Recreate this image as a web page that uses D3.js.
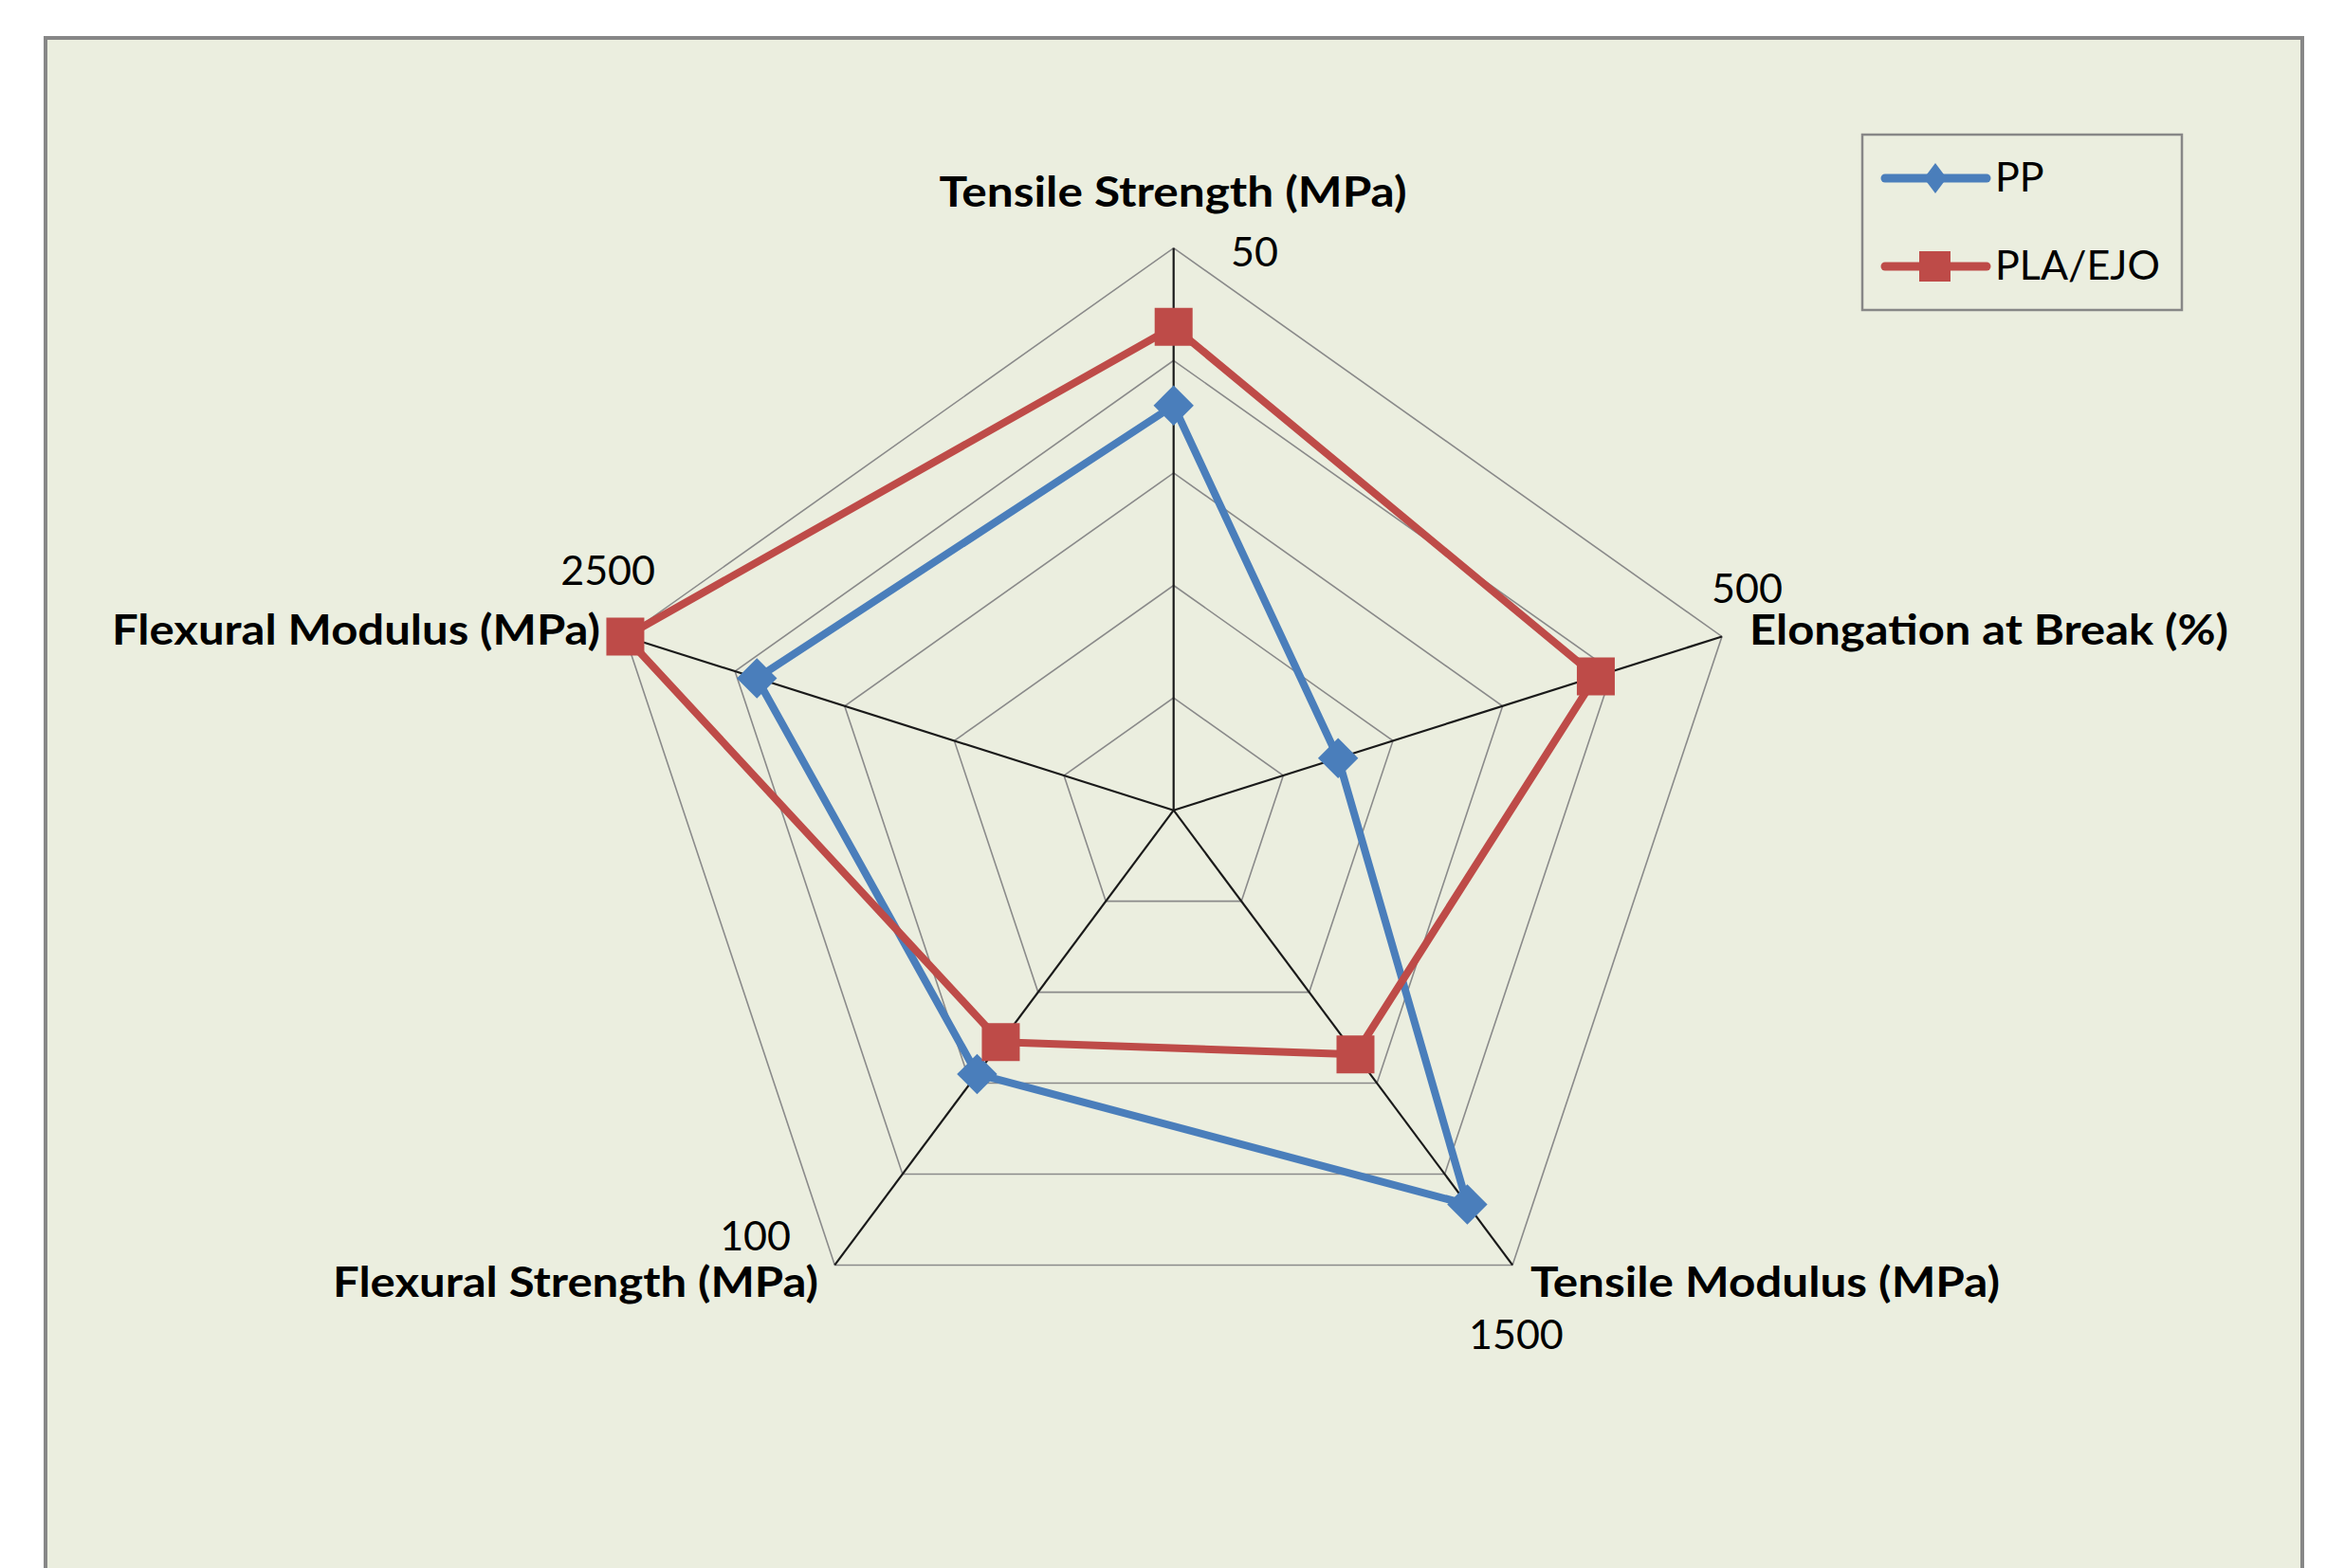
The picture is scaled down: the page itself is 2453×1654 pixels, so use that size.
<!DOCTYPE html>
<html>
<head>
<meta charset="utf-8">
<script src="https://cdn.jsdelivr.net/npm/d3@7"></script>
<style>
  html, body { margin: 0; padding: 0; background: #ffffff; }
  svg { display: block; }
</style>
</head>
<body>
<svg id="chart" width="2453" height="1654"></svg>
<script>
// ---- data ----
const axes = ["Tensile Strength (MPa)", "Elongation at Break (%)", "Tensile Modulus (MPa)", "Flexural Strength (MPa)", "Flexural Modulus (MPa)"];
const axisMax = [50, 500, 1500, 100, 2500];
const axisMaxLabels = ["50", "500", "1500", "100", "2500"];
const seriesNames = ["PP", "PLA/EJO"];
const ppValues = [36, 150, 1300, 58, 1900];
const plaValues = [43, 385, 805, 51, 2500];
const gridLevels = [0.2, 0.4, 0.6, 0.8, 1.0];

// ---- layout ----
const W = 2453, H = 1654;
const cx = 1237.7, cy = 854.7;
const Rx = 608, Ry = 593;
const colors = { PP: "#4A7EBB", "PLA/EJO": "#BE4B48" };
const font = "Lato, 'Open Sans', sans-serif";

const svg = d3.select("#chart");

// chart area
svg.append("rect")
  .attr("x", 48).attr("y", 40).attr("width", 2380).attr("height", 1700)
  .attr("fill", "#EBEEDF").attr("stroke", "#878787").attr("stroke-width", 4);

const angle = d3.scaleLinear().domain([0, axes.length]).range([0, 2 * Math.PI]);
const radial = axisMax.map(m => d3.scaleLinear().domain([0, m]).range([0, 1]));

function pt(i, f) {
  const a = angle(i);
  return [cx + Rx * f * Math.sin(a), cy - Ry * f * Math.cos(a)];
}

const g = svg.append("g");

// grid rings
g.selectAll("path.ring").data(gridLevels).enter().append("path")
  .attr("class", "ring")
  .attr("d", f => d3.line()(axes.map((_, i) => pt(i, f))) + "Z")
  .attr("fill", "none").attr("stroke", "#8a8a8a").attr("stroke-width", 1.6);

// spokes
g.selectAll("line.spoke").data(axes).enter().append("line")
  .attr("class", "spoke")
  .attr("x1", cx).attr("y1", cy)
  .attr("x2", (d, i) => pt(i, 1)[0]).attr("y2", (d, i) => pt(i, 1)[1])
  .attr("stroke", "#1a1a1a").attr("stroke-width", 2.2);

// series
const series = [
  { name: "PP", values: ppValues, marker: "diamond" },
  { name: "PLA/EJO", values: plaValues, marker: "square" }
];

series.forEach(s => {
  const pts = s.values.map((v, i) => pt(i, radial[i](v)));
  g.append("path")
    .attr("d", d3.line()(pts) + "Z")
    .attr("fill", "none").attr("stroke", colors[s.name])
    .attr("stroke-width", 8).attr("stroke-linejoin", "round");
  const sym = s.marker === "diamond"
    ? d3.symbol().type(d3.symbolSquare).size(30 * 30)
    : d3.symbol().type(d3.symbolSquare).size(40 * 40);
  g.selectAll(null).data(pts).enter().append("path")
    .attr("d", sym())
    .attr("transform", d => `translate(${d[0]},${d[1]})` + (s.marker === "diamond" ? " rotate(45)" : ""))
    .attr("fill", colors[s.name]);
});

// axis labels
const labelSpecs = [
  { x: 1237, y: 218, anchor: "middle", w: 493 },
  { x: 1845, y: 680, anchor: "start", w: 505 },
  { x: 1614, y: 1368, anchor: "start", w: 495 },
  { x: 863, y: 1368, anchor: "end", w: 512 },
  { x: 633, y: 680, anchor: "end", w: 515 }
];
axes.forEach((a, i) => {
  const s = labelSpecs[i];
  svg.append("text")
    .attr("x", s.x).attr("y", s.y)
    .attr("text-anchor", s.anchor)
    .attr("font-family", font).attr("font-weight", "bold")
    .attr("font-size", 43).attr("fill", "#000")
    .attr("textLength", s.w).attr("lengthAdjust", "spacingAndGlyphs")
    .text(a);
});

// max tick labels
const tickSpecs = [
  { x: 1298, y: 281, anchor: "start" },
  { x: 1805, y: 636, anchor: "start" },
  { x: 1549, y: 1423, anchor: "start" },
  { x: 834, y: 1319, anchor: "end" },
  { x: 691, y: 617, anchor: "end" }
];
axisMaxLabels.forEach((t, i) => {
  const s = tickSpecs[i];
  svg.append("text")
    .attr("x", s.x).attr("y", s.y)
    .attr("text-anchor", s.anchor)
    .attr("font-family", font).attr("font-size", 43).attr("fill", "#000")
    .text(t);
});

// legend
const leg = svg.append("g");
leg.append("rect")
  .attr("x", 1964).attr("y", 142).attr("width", 337).attr("height", 185)
  .attr("fill", "none").attr("stroke", "#878787").attr("stroke-width", 2.5);
const legY = [188, 281];
series.forEach((s, k) => {
  const y = legY[k];
  leg.append("line")
    .attr("x1", 1988).attr("x2", 2095).attr("y1", y).attr("y2", y)
    .attr("stroke", colors[s.name]).attr("stroke-width", 9).attr("stroke-linecap", "round");
  if (s.marker === "diamond") {
    leg.append("path")
      .attr("d", `M2041,${y - 16} L2053,${y} L2041,${y + 16} L2029,${y} Z`)
      .attr("fill", colors[s.name]);
  } else {
    leg.append("rect")
      .attr("x", 2024).attr("y", y - 16).attr("width", 33).attr("height", 32)
      .attr("fill", colors[s.name]);
  }
  leg.append("text")
    .attr("x", 2104).attr("y", y + 14)
    .attr("font-family", font).attr("font-size", 43).attr("fill", "#000")
    .text(s.name);
});
</script>
</body>
</html>
